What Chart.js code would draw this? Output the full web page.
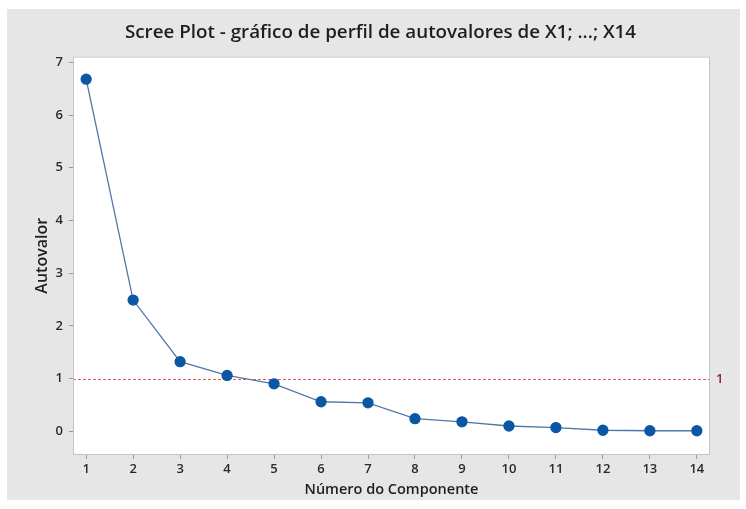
<!DOCTYPE html>
<html>
<head>
<meta charset="utf-8">
<script src="https://cdn.jsdelivr.net/npm/chart.js@4"></script>
<style>
  html, body { margin: 0; padding: 0; background: #fff; }
  #wrap { width: 746px; height: 509px; }
</style>
</head>
<body>
<div id="wrap"><canvas id="scree"></canvas></div>
<script>
// Scree plot data
const components = [1, 2, 3, 4, 5, 6, 7, 8, 9, 10, 11, 12, 13, 14];
const eigenvalues = [6.68, 2.49, 1.32, 1.06, 0.90, 0.56, 0.54, 0.24, 0.18, 0.10, 0.07, 0.02, 0.01, 0.01];
const yTicks = [0, 1, 2, 3, 4, 5, 6, 7];
const refValue = 1;

const fontFamily = '"Open Sans", "Noto Sans", sans-serif';

// gray panel, plot frame and the reference line at y = 1
const frame = {
  id: 'frame',
  beforeDraw(chart) {
    const c = chart.ctx;
    c.save();
    c.fillStyle = '#e6e6e6';
    c.fillRect(7, 9, 733, 491);
    const a = chart.chartArea;
    c.fillStyle = '#ffffff';
    c.fillRect(a.left, a.top, a.right - a.left, a.bottom - a.top);
    c.restore();
  },
  beforeDatasetsDraw(chart) {
    const c = chart.ctx;
    const a = chart.chartArea;
    const y = Math.round(chart.scales.y.getPixelForValue(refValue)) + 0.5;
    c.save();
    c.strokeStyle = '#e05a5a';
    c.lineWidth = 1.2;
    c.setLineDash([3, 2]);
    c.beginPath();
    c.moveTo(a.left, y);
    c.lineTo(a.right, y);
    c.stroke();
    c.setLineDash([]);
    c.fillStyle = '#902424';
    c.font = '600 13px ' + fontFamily;
    c.textBaseline = 'middle';
    c.fillText(String(refValue), a.right + 6, y);
    c.restore();
  },
  afterDatasetsDraw(chart) {
    const c = chart.ctx;
    const a = chart.chartArea;
    c.save();
    c.strokeStyle = '#c4c4c4';
    c.lineWidth = 1;
    c.strokeRect(a.left + 0.5, a.top + 0.5, a.right - a.left - 1, a.bottom - a.top - 1);
    c.restore();
  }
};

new Chart(document.getElementById('scree'), {
  type: 'scatter',
  data: {
    datasets: [{
      data: components.map((x, i) => ({ x: x, y: eigenvalues[i] })),
      showLine: true,
      borderColor: '#4f78a6',
      borderWidth: 1.3,
      pointBackgroundColor: '#0b57a4',
      pointBorderColor: '#0b57a4',
      pointRadius: 5,
      tension: 0
    }]
  },
  options: {
    responsive: true,
    maintainAspectRatio: false,
    animation: false,
    // left padding 51 keeps the title centred where Minitab puts it
    layout: { padding: { top: 0, left: 51, right: 36, bottom: 10 } },
    plugins: {
      legend: { display: false },
      tooltip: { enabled: false },
      title: {
        display: true,
        text: 'Scree Plot - gráfico de perfil de autovalores de X1; ...; X14',
        color: '#1e1e1e',
        font: { family: fontFamily, size: 18.8, weight: '600' },
        padding: { top: 21, bottom: 13 }
      }
    },
    scales: {
      x: {
        type: 'linear',
        min: 0.72,
        max: 14.28,
        afterBuildTicks: axis => { axis.ticks = components.map(v => ({ value: v })); },
        afterFit: axis => { axis.height = 44; },
        grid: { drawOnChartArea: false, tickLength: 4, color: '#999' },
        border: { display: false },
        ticks: { color: '#2a2a2a', padding: 2, font: { family: fontFamily, size: 13, weight: '600' } },
        title: {
          display: true,
          text: 'Número do Componente',
          color: '#1e1e1e',
          padding: { top: 0, bottom: 0 },
          font: { family: fontFamily, size: 14.5, weight: '600' }
        }
      },
      y: {
        min: -0.45,
        max: 7.11,
        afterBuildTicks: axis => { axis.ticks = yTicks.map(v => ({ value: v })); },
        afterFit: axis => { axis.width = 22; },
        grid: { drawOnChartArea: false, tickLength: 4, color: '#999' },
        border: { display: false },
        ticks: { color: '#2a2a2a', padding: 6, font: { family: fontFamily, size: 13, weight: '600' } },
        title: {
          display: true,
          text: 'Autovalor',
          color: '#1e1e1e',
          padding: { top: -18.6, bottom: 0 },
          font: { family: fontFamily, size: 16, weight: '600' }
        }
      }
    }
  },
  plugins: [frame]
});
</script>
</body>
</html>
